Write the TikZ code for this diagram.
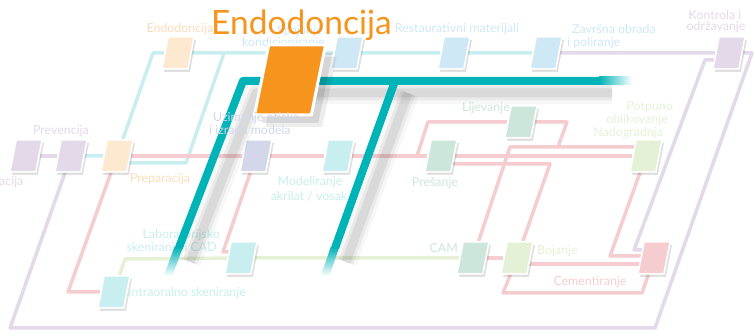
\documentclass[tikz,border=0pt]{standalone}
\usepackage{fontspec}
\setmainfont{Lato}
\usepackage{xcolor}
\usetikzlibrary{shapes.geometric,calc,shadows}

\definecolor{bteal}{HTML}{00B3B6}
\definecolor{borange}{HTML}{F7941D}
\definecolor{fteal}{HTML}{C9EEF0}
\definecolor{fblue}{HTML}{CFE8F5}
\definecolor{fpurple}{HTML}{E3D9E8}
\definecolor{fred}{HTML}{F5CDD0}
\definecolor{fgreen}{HTML}{E5F1D6}
\definecolor{fmint}{HTML}{CDE6DB}
\definecolor{forange}{HTML}{FDE9D0}
\definecolor{fslate}{HTML}{D3D7E9}
\definecolor{torange}{HTML}{FCDCB9}

\pgfdeclarelayer{bg}
\pgfsetlayers{bg,main}

\begin{document}
\begin{tikzpicture}[x=1pt, y=-1pt,
    line/.style = {line width=3.5pt, line join=round},
    lbl/.style = {font=\fontsize{12.4}{14}\selectfont, inner sep=0pt}
  ]
  \tikzstyle{stn}=[
    trapezium, trapezium left angle=72.6, trapezium right angle=107.4,
    trapezium stretches=true, minimum width=32pt, minimum height=32pt,
    inner sep=1pt, draw=white, line width=1.5pt,
    drop shadow={shadow xshift=2pt, shadow yshift=-3pt, opacity=0.12, fill=black}
  ]
  \tikzstyle{bigstn}=[
    trapezium, trapezium left angle=71.6, trapezium right angle=108.4,
    trapezium stretches=true, minimum width=71pt, minimum height=70pt,
    inner sep=1pt, draw=white, line width=3pt, fill=borange,
    drop shadow={shadow xshift=11pt, shadow yshift=-12pt, opacity=0.07, fill=black},
    drop shadow={shadow xshift=7pt, shadow yshift=-8pt, opacity=0.1, fill=black}
  ]
\useasboundingbox (0,0) rectangle (755,336);

% stations
\node[stn, fill=fpurple] (edu) at (26,156) {};
\node[stn, fill=fpurple] (prev) at (71,156) {};
\node[stn, fill=forange] (prep) at (117,156) {};
\node[stn, fill=forange] (endo) at (178,53) {};
\node[stn, fill=fblue] (spaj) at (347,53) {};
\node[stn, fill=fblue] (rest) at (454,53) {};
\node[stn, fill=fblue] (zavr) at (546,53) {};
\node[stn, fill=fpurple] (kont) at (729,53) {};
\node[stn, fill=fslate] (uzim) at (256,156) {};
\node[stn, fill=fteal] (model) at (338,156) {};
\node[stn, fill=fmint] (pres) at (441,156) {};
\node[stn, fill=fmint] (lije) at (521,122) {};
\node[stn, fill=fgreen] (potp) at (646,156) {};
\node[stn, fill=fteal] (lab) at (241,258) {};
\node[stn, fill=fteal] (intra) at (114,292) {};
\node[stn, fill=fmint] (cam) at (473,258) {};
\node[stn, fill=fgreen] (boj) at (517,258) {};
\node[stn, fill=fred] (cem) at (654,258) {};

% faded lines
\begin{pgfonlayer}{bg}
\draw[line, fpurple] (edu) -- (prev);
\draw[line, fpurple] (zavr) -- (kont) -- (752,53) -- (655,328) -- (10,328) -- (prev);
\draw[line, fpurple] ($(kont)+(0,7)$) -- (705,60) -- (634,250) -- ($(cem)+(0,-8)$);
\draw[line, fteal] (prev) -- (prep) -- (153,53) -- (endo) -- (spaj) -- (rest) -- (zavr);
\draw[line, fteal] ($(prep)+(0,7)$) -- (186,163) -- (224,53);
\draw[line, fred] (prep) -- (uzim) -- (model) -- (pres) -- (potp);
\draw[line, fred] (prep) -- (68,292) -- (intra);
\draw[line, fred] (uzim) -- (223,252) -- ($(lab)+(0,-6)$);
\draw[line, fred] (417,156) -- (428,122) -- (lije) -- (567,122) -- (558,147);
\draw[line, fred] (cam) -- (510,147) -- ($(potp)+(0,-9)$);
\draw[line, fred] ($(pres)+(0,8)$) -- (550,164) -- (boj);
\draw[line, fred] (potp) -- (610,256) -- ($(cem)+(0,-2)$);
\draw[line, fred] (cam) -- (boj);
\draw[line, fred] ($(boj)+(0,6)$) -- ($(cem)+(0,6)$);
\draw[line, fred] (boj) -- (503,293) -- (642,293) -- (cem);
\draw[line, fgreen] (intra) -- (125,259) -- (lab) -- (cam);
\end{pgfonlayer}

% labels
\node[lbl, text=fpurple] (l-prev) at (61,131) {Prevencija};
\node[lbl, text=fpurple, anchor=west] (l-edu) at (-1,182) {acija};
\node[lbl, text=torange] (l-endo) at (180,29) {Endodoncija};
\node[lbl, text=fblue, anchor=west] (l-spaj) at (277,31) {Spajanje};
\node[lbl, text=fblue, anchor=west] (l-spaj2) at (242,43) {kondicioniranje};
\node[lbl, text=fblue] (l-rest) at (457,29) {Restaurativni materijali};
\node[lbl, text=fblue, anchor=west] (l-zavr) at (572,29) {Završna obrada};
\node[lbl, text=fblue, anchor=west] (l-zavr2) at (567,43) {i poliranje};
\node[lbl, text=fpurple] (l-kont) at (715,15) {Kontrola i};
\node[lbl, text=fpurple] (l-kont2) at (716,27) {održavanje};
\node[lbl, text=torange] (l-prep) at (160,179) {Preparacija};
\node[lbl, text=fteal] (l-model) at (310,182) {Modeliranje};
\node[lbl, text=fteal] (l-model2) at (309,196) {akrilat / vosak};
\node[lbl, text=fmint] (l-pres) at (435,183) {Prešanje};
\node[lbl, text=fmint] (l-lije) at (486,108) {Lijevanje};
\node[lbl, text=fgreen, anchor=east] (l-potp) at (673,107) {Potpuno};
\node[lbl, text=fgreen, anchor=east] (l-potp2) at (668,120) {oblikovanje};
\node[lbl, text=fgreen, anchor=east] (l-nado) at (663,133) {Nadogradnja};
\node[lbl, text=fteal, anchor=east] (l-lab) at (220,235) {Laboratorijsko};
\node[lbl, text=fteal, anchor=east] (l-lab2) at (217,248) {skeniranje i CAD};
\node[lbl, text=fteal, anchor=west] (l-intra) at (128,293) {Intraoralno skeniranje};
\node[lbl, text=fmint, anchor=east] (l-cam) at (458,248) {CAM};
\node[lbl, text=fgreen, anchor=west] (l-boj) at (537,251) {Bojanje};
\node[lbl, text=fred] (l-cem) at (590,282) {Cementiranje};

% bold line with its shadow
\foreach \w/\o in {22/0.03, 15/0.05, 9/0.07} {
  \draw[line width=\w pt, black, opacity=\o, line join=round] (612,93) -- (256,93) -- (190,262);
  \draw[line width=\w pt, black, opacity=\o] (408,93) -- (346,262);
}
\draw[line width=8pt, bteal, line join=round] (600,81) -- (243,81) -- (178.8,248);
\draw[line width=8pt, bteal] (395,81) -- (335,248);
\shade[left color=bteal, right color=white] (599,77) rectangle (632,85);
\shade[top color=bteal, bottom color=white] (174.5,247) -- (183.1,247) -- (172.3,276) -- (163.7,276) -- cycle;
\shade[top color=bteal, bottom color=white] (330.7,247) -- (339.3,247) -- (329.3,276) -- (320.7,276) -- cycle;

\node[bigstn] (endoB) at (290,80) {};
\node[lbl, text=fslate, anchor=west] (l-uzim) at (213,118) {Uzimanje otiska};
\node[lbl, text=fslate, anchor=west] (l-uzim2) at (209,130) {i izrada modela};
\node[font=\fontsize{33.5}{38}\selectfont, text=borange, anchor=base west, inner sep=0pt] (title) at (211,35) {Endodoncija};
\end{tikzpicture}
\end{document}
